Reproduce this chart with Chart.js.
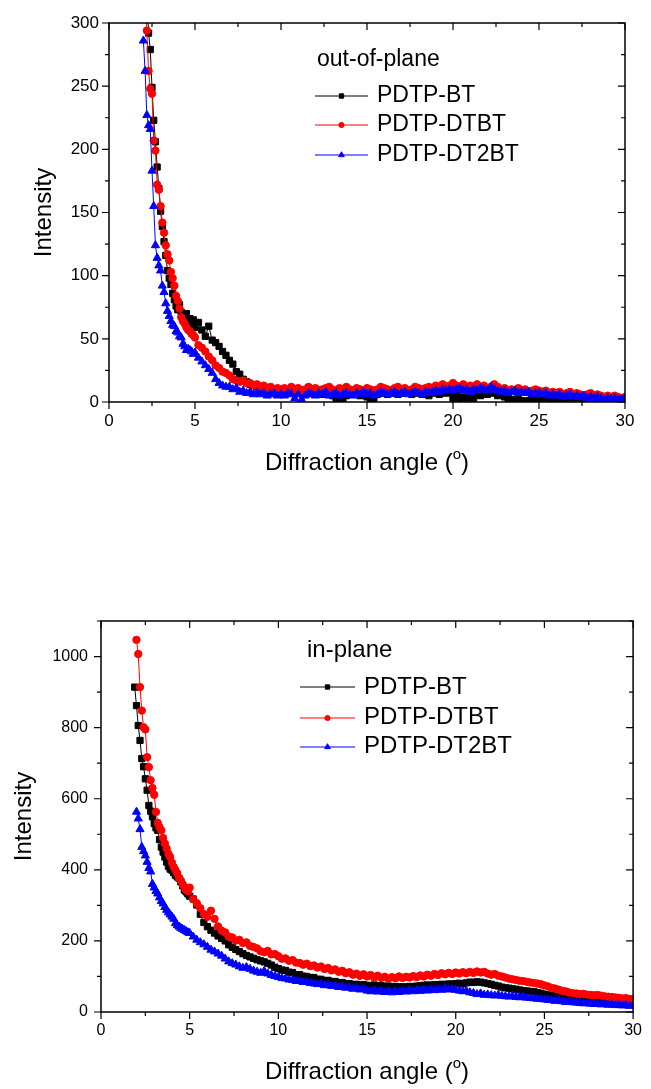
<!DOCTYPE html>
<html>
<head>
<meta charset="utf-8">
<script src="https://cdn.jsdelivr.net/npm/chart.js@4.4.1/dist/chart.umd.min.js"></script>
<style>
  body { margin: 0; background: #fff; }
  #wrap { position: relative; width: 651px; height: 1089px; }
  canvas { position: absolute; left: 0; }
</style>
</head>
<body>
<div id="wrap">
  <canvas id="oopChart" width="651" height="540" style="top:0"></canvas>
  <canvas id="ipChart" width="651" height="549" style="top:540px"></canvas>
</div>
<script>
const FONT = "'Liberation Sans', Arial, sans-serif";

// diffraction angle (deg), same grid for every scan
const angles = [
  1.9, 2.0, 2.1, 2.2, 2.3, 2.4, 2.5, 2.6, 2.7, 2.8, 2.9, 3.0, 3.1, 3.2, 3.3, 3.4,
  3.5, 3.6, 3.7, 3.8, 3.9, 4.0, 4.1, 4.2, 4.3, 4.4, 4.5, 4.6, 4.7, 4.8, 4.9, 5.0,
  5.2, 5.4, 5.6, 5.8, 6.0, 6.2, 6.4, 6.6, 6.8, 7.0, 7.2, 7.4, 7.6, 7.8, 8.0, 8.2,
  8.4, 8.6, 8.8, 9.0, 9.2, 9.4, 9.6, 9.8,
  10.0, 10.2, 10.4, 10.6, 10.8, 11.0, 11.2, 11.4, 11.6, 11.8, 12.0, 12.2, 12.4,
  12.6, 12.8, 13.0, 13.2, 13.4, 13.6, 13.8, 14.0, 14.2, 14.4, 14.6, 14.8,
  15.0, 15.2, 15.4, 15.6, 15.8, 16.0, 16.2, 16.4, 16.6, 16.8, 17.0, 17.2, 17.4,
  17.6, 17.8, 18.0, 18.2, 18.4, 18.6, 18.8, 19.0, 19.2, 19.4, 19.6, 19.8,
  20.0, 20.2, 20.4, 20.6, 20.8, 21.0, 21.2, 21.4, 21.6, 21.8, 22.0, 22.2, 22.4,
  22.6, 22.8, 23.0, 23.2, 23.4, 23.6, 23.8, 24.0, 24.2, 24.4, 24.6, 24.8,
  25.0, 25.2, 25.4, 25.6, 25.8, 26.0, 26.2, 26.4, 26.6, 26.8, 27.0, 27.2, 27.4,
  27.6, 27.8, 28.0, 28.2, 28.4, 28.6, 28.8, 29.0, 29.2, 29.4, 29.6, 29.8, 30.0
];

// out-of-plane scan
const oopBT = [
  null, null, null, 325, 292, 279, 249, 223, 206, 186, 169, 151, 139, 127, 116, 104,
  98, 93, 86, 81, 76, 73, 77, 71, 68, 65, 70, 63, 66, 61, 65, 59,
  63, 57, 52, 60, 49, 47, 44, 40, 37, 33, 30, 24, 22, 18, 16, 14, 13, 12, 11, 10, 9, 10, 8, 9,
  8, 9, 7, 8, 9, 7, 8, 6, 8, 7, 9, 7, 6, 8, 7, 5, 3, 6, 2, 5, 7, 6, 8, 5, 7,
  4, 2, 3, 6, 7, 8, 6, 7, 9, 6, 7, 8, 9, 6, 7, 8, 6, 7, 5, 7, 8, 6, 9, 7, 8,
  3, 5, 2, 4, 3, 6, 3, 7, 5, 8, 6, 11, 7, 5, 6, 4, 3, 2, 1, 2, 1, 0.5, 1, 2, 1,
  2, 3, 4, 3, 2, 1, 2, 1, 3, 4, 3, 4, 3, 2, 3, 4, 3, 2, 3, 2, 3, 2, 3, 2, 2, 3
];
const oopDTBT = [
  null, null, 318, 294, 262, 248, 244, 207, 199, 172, 168, 155, 142, 134, 124, 117,
  112, 103, 98, 92, 84, 80, 74, 67, 64, 62, 59, 57, 56, 54, 53, 51,
  45, 43, 40, 36, 33, 29, 27, 24, 23, 21, 18, 17, 16, 17, 15, 15, 13, 14, 12, 13, 11, 12, 10, 11,
  10, 11, 9, 12, 10, 11, 9, 10, 12, 10, 11, 9, 10, 11, 12, 10, 9, 11, 10, 12, 10, 9, 11, 10, 9,
  11, 10, 9, 10, 12, 11, 10, 9, 11, 12, 10, 11, 9, 10, 12, 11, 10, 11, 12, 11, 13, 12, 14, 12, 13,
  15, 13, 12, 14, 11, 13, 12, 14, 12, 13, 11, 12, 14, 12, 10, 11, 9, 10, 9, 11, 9, 10, 8, 9, 10,
  9, 8, 9, 7, 8, 7, 8, 6, 7, 8, 6, 7, 6, 5, 6, 7, 5, 6, 5, 4, 5, 4, 5, 4, 3, 4
];
const oopDT2BT = [
  null, 286, 262, 227, 219, 216, 183, 155, 124, 114, 108, 104, 92, 87, 78, 72,
  68, 64, 61, 60, 56, 55, 52, 51, 46, 44, 41, 42, 41, 40, 38, 39,
  35, 32, 29, 26, 23, 18, 15, 13, 12, 12, 10, 11, 8, 9, 7, 8, 6, 7, 6, 7, 5, 6, 7, 5,
  6, 5, 7, 6, 3, 6, 2, 5, 7, 6, 5, 7, 6, 8, 5, 6, 7, 5, 6, 7, 6, 5, 7, 6, 8,
  6, 7, 5, 6, 8, 7, 6, 7, 8, 6, 7, 8, 6, 7, 8, 7, 6, 8, 7, 8, 9, 8, 10, 9, 10,
  9, 10, 11, 9, 10, 8, 10, 9, 11, 10, 9, 12, 10, 9, 8, 9, 7, 8, 9, 7, 8, 7, 8, 6, 7,
  7, 6, 7, 5, 6, 5, 6, 4, 5, 6, 4, 5, 4, 5, 3, 4, 3, 4, 3, 2, 3, 2, 3, 2, 2, 3
];

// in-plane scan
const ipBT = [
  914, 862, 806, 764, 713, 690, 656, 624, 581, 565, 549, 530, 518, 511, 485, 464,
  450, 436, 422, 410, 402, 399, 392, 385, 380, 376, 366, 355, 343, 338, 332, 326,
  318, 301, 275, 252, 240, 230, 222, 214, 207, 200, 189, 182, 176, 170, 164, 159,
  155, 151, 147, 144, 141, 137, 132, 126,
  122, 118, 117, 112, 111, 105, 105, 101, 100, 97, 97, 92, 92, 88, 89, 85, 86, 82, 83, 79, 80, 77, 78, 75, 77,
  75, 74, 76, 73, 74, 72, 73, 71, 72, 70, 71, 70, 72, 71, 73, 74, 75, 76, 75, 77, 76, 78, 77, 79, 78,
  80, 81, 79, 82, 84, 83, 85, 84, 82, 80, 78, 75, 73, 70, 68, 67, 65, 64, 62, 60, 59, 58, 57, 55, 53,
  50, 48, 47, 45, 44, 42, 41, 40, 39, 38, 37, 36, 35, 34, 33, 32, 31, 30, 29, 28, 27, 26, 25, 25, 24, 23
];
const ipDTBT = [
  null, 1047, 1007, 914, 848, 801, 795, 717, 689, 652, 630, 611, 563, 532, 520, 511,
  490, 474, 460, 445, 436, 420, 408, 399, 390, 376, 370, 360, 352, 343, 340, 350,
  318, 306, 292, 276, 268, 285, 262, 241, 229, 224, 212, 210, 201, 203, 194, 196,
  186, 183, 179, 171, 168, 172, 162, 163,
  157, 150, 151, 144, 146, 139, 138, 133, 136, 129, 131, 125, 128, 121, 124, 117, 120, 113, 116, 109, 112, 105, 108, 102, 106,
  100, 104, 97, 102, 96, 99, 94, 98, 95, 100, 96, 99, 97, 101, 98, 103, 100, 105, 102, 107, 104, 109, 106, 110, 107,
  111, 108, 112, 109, 113, 110, 114, 111, 113, 108, 105, 107, 102, 100, 97, 94, 92, 90, 88, 87, 85, 83, 82, 80, 78,
  75, 72, 68, 66, 63, 60, 58, 55, 53, 52, 50, 51, 49, 48, 47, 48, 46, 44, 43, 42, 41, 40, 38, 39, 37, 36
];
const ipDT2BT = [
  null, 563, 544, 514, 464, 452, 440, 422, 405, 395, 360, 350, 340, 333, 322, 312,
  305, 295, 287, 280, 274, 268, 262, 250, 244, 240, 236, 233, 230, 227, 224, 222,
  212, 203, 196, 190, 183, 175, 170, 164, 158, 150, 142, 137, 133, 128, 124, 126,
  121, 116, 113, 110, 115, 108, 104, 101,
  98, 95, 94, 91, 90, 87, 87, 84, 84, 81, 80, 78, 79, 75, 76, 73, 74, 70, 71, 68, 69, 65, 67, 63, 65,
  60, 58, 61, 57, 60, 56, 59, 55, 58, 56, 60, 57, 61, 58, 62, 59, 63, 60, 64, 61, 65, 62, 66, 63, 64,
  62, 60, 58, 59, 55, 53, 50, 52, 48, 49, 47, 46, 48, 45, 44, 43, 45, 42, 41, 43, 40, 39, 38, 37, 36,
  35, 34, 33, 31, 32, 30, 28, 29, 27, 26, 25, 24, 25, 23, 22, 23, 21, 22, 20, 21, 19, 20, 18, 19, 17, 18
];

const seriesNames = ['PDTP-BT', 'PDTP-DTBT', 'PDTP-DT2BT'];
const seriesColors = ['#000000', '#ff0000', '#0000ff'];
const seriesMarkers = ['rect', 'circle', 'triangle'];
const markerRadius = { rect: 4.4, circle: 3.7, triangle: 4.7 };

function toPoints(ys) {
  if (ys.length !== angles.length) throw new Error('length mismatch ' + ys.length);
  const pts = [];
  angles.forEach((a, i) => { if (ys[i] !== null) pts.push({ x: a, y: ys[i] }); });
  return pts;
}

function makeDatasets(values) {
  return values.map((ys, i) => ({
    label: seriesNames[i],
    data: toPoints(ys),
    borderColor: seriesColors[i],
    backgroundColor: seriesColors[i],
    borderWidth: 1,
    pointStyle: seriesMarkers[i],
    pointRadius: markerRadius[seriesMarkers[i]],
    pointBorderWidth: 1,
    pointBackgroundColor: seriesColors[i],
    pointBorderColor: seriesColors[i],
    tension: 0,
    order: values.length - 1 - i // blue painted last, like the original
  }));
}

// box frame, minor ticks, axis titles and the in-plot legend
const framePlugin = {
  id: 'frame',
  afterDraw(chart, args, opts) {
    const { ctx, chartArea: a } = chart;
    const xs = chart.scales.x, ys = chart.scales.y;
    ctx.save();
    ctx.strokeStyle = '#000';
    ctx.lineWidth = 1.5;
    ctx.strokeRect(a.left, a.top, a.right - a.left, a.bottom - a.top);

    ctx.lineWidth = 1.2;
    ctx.beginPath();
    let n = Math.round((xs.max - xs.min) / opts.xMinor);
    for (let k = 0; k <= n; k++) {
      const px = xs.getPixelForValue(xs.min + k * opts.xMinor);
      const len = k % 2 === 0 ? 7 : 4;
      ctx.moveTo(px, a.bottom); ctx.lineTo(px, a.bottom + len);
      ctx.moveTo(px, a.top); ctx.lineTo(px, a.top + len);
    }
    n = Math.round((ys.max - ys.min) / opts.yMinor);
    for (let k = 0; k <= n; k++) {
      const py = ys.getPixelForValue(ys.min + k * opts.yMinor);
      const len = k % 2 === 0 ? 7 : 4;
      ctx.moveTo(a.left - len, py); ctx.lineTo(a.left, py);
      ctx.moveTo(a.right - len, py); ctx.lineTo(a.right, py);
    }
    ctx.stroke();

    // axis titles
    const tf = opts.titleSize + 'px ' + FONT;
    const sf = Math.round(opts.titleSize * 0.62) + 'px ' + FONT;
    ctx.fillStyle = '#000';
    ctx.textBaseline = 'middle';
    ctx.font = tf;
    ctx.save();
    ctx.translate(opts.yTitleX, (a.top + a.bottom) / 2);
    ctx.rotate(-Math.PI / 2);
    ctx.textAlign = 'center';
    ctx.fillText('Intensity', 0, 0);
    ctx.restore();

    ctx.textAlign = 'left';
    const part1 = 'Diffraction angle (';
    const w1 = ctx.measureText(part1).width;
    const w3 = ctx.measureText(')').width;
    ctx.font = sf;
    const w2 = ctx.measureText('o').width;
    let sx = (a.left + a.right) / 2 - (w1 + w2 + w3) / 2;
    const ty = opts.xTitleY;
    ctx.font = tf;
    ctx.fillText(part1, sx, ty);
    sx += w1;
    ctx.font = sf;
    ctx.fillText('o', sx, ty - opts.titleSize * 0.36);
    sx += w2;
    ctx.font = tf;
    ctx.fillText(')', sx, ty);

    // legend
    const L = opts.legend;
    ctx.font = L.size + 'px ' + FONT;
    ctx.fillText(L.title, L.x, L.titleY);
    chart.data.datasets.forEach((ds, i) => {
      const yy = L.rowY[i];
      ctx.strokeStyle = ds.borderColor;
      ctx.lineWidth = 1;
      ctx.beginPath();
      ctx.moveTo(L.lineX0, L.lineY[i]);
      ctx.lineTo(L.lineX1, L.lineY[i]);
      ctx.stroke();
      ctx.fillStyle = ds.borderColor;
      Chart.helpers.drawPoint(ctx, {
        pointStyle: ds.pointStyle, radius: ds.pointRadius * 0.7, borderWidth: 1, rotation: 0
      }, (L.lineX0 + L.lineX1) / 2, L.lineY[i]);
      ctx.fillStyle = '#000';
      ctx.fillText(ds.label, L.textX, yy);
    });
    ctx.restore();
  }
};

function makeChart(id, values, cfg) {
  const tickFont = { family: FONT, size: cfg.tickSize };
  return new Chart(document.getElementById(id), {
    type: 'line',
    data: { datasets: makeDatasets(values) },
    plugins: [framePlugin],
    options: {
      responsive: false,
      devicePixelRatio: 1,
      animation: false,
      layout: { padding: cfg.padding },
      plugins: {
        legend: { display: false },
        tooltip: { enabled: false },
        frame: cfg.frame
      },
      scales: {
        x: {
          type: 'linear', min: 0, max: 30,
          grid: { display: false, drawTicks: false },
          border: { display: false },
          ticks: { stepSize: 5, font: tickFont, color: '#000', padding: cfg.xPad, maxRotation: 0 },
          afterFit: s => { s.height = 40; }
        },
        y: {
          min: 0, max: cfg.yMax,
          grid: { display: false, drawTicks: false },
          border: { display: false },
          ticks: {
            stepSize: cfg.yStep, includeBounds: false, font: tickFont, color: '#000', padding: cfg.yPad,
            callback: v => String(v)
          },
          afterFit: s => { s.width = 60; }
        }
      }
    }
  });
}

makeChart('oopChart', [oopBT, oopDTBT, oopDT2BT], {
  yMax: 300, yStep: 50, tickSize: 17, xPad: 9, yPad: 10,
  padding: { left: 49, right: 26, top: 23, bottom: 98 },
  frame: {
    xMinor: 2.5, yMinor: 25, titleSize: 24, yTitleX: 44, xTitleY: 463,
    legend: { title: 'out-of-plane', size: 23, x: 317, titleY: 60,
      rowY: [95.5, 125, 155], lineY: [96, 125, 155], lineX0: 315, lineX1: 368, textX: 377 }
  }
});

makeChart('ipChart', [ipBT, ipDTBT, ipDT2BT], {
  yMax: 1100, yStep: 200, tickSize: 16, xPad: 9, yPad: 13,
  padding: { left: 41, right: 16, top: 81, bottom: 37 },
  frame: {
    xMinor: 2.5, yMinor: 100, titleSize: 24, yTitleX: 24, xTitleY: 532,
    legend: { title: 'in-plane', size: 24, x: 307, titleY: 110,
      rowY: [147.5, 177.5, 206], lineY: [147, 178, 207], lineX0: 300, lineX1: 355, textX: 364 }
  }
});
</script>
</body>
</html>
